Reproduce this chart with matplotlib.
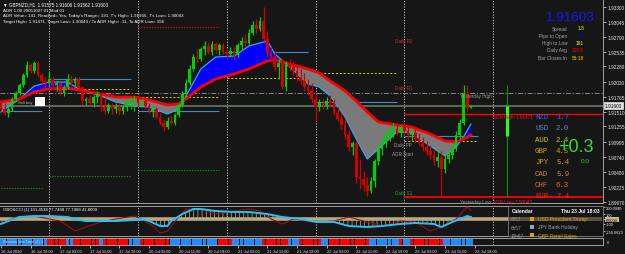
import matplotlib
matplotlib.use("Agg")
import matplotlib.pyplot as plt
import numpy as np
from matplotlib.patches import Rectangle

plt.rcParams['font.family'] = ['Liberation Sans', 'DejaVu Sans']

W, H = 625, 255
BG = "#161616"

# ---------------- data ----------------
symbol_line = "\u25BC GBPNZD,H1  1.91575 1.91606 1.91562 1.91603"
first_open = 1.91622
closes = [1.91553, 1.91485, 1.91553, 1.91724, 1.91827, 1.91963, 1.92134, 1.92305, 1.92202, 1.92339,
          1.92134, 1.92031, 1.91997, 1.92066, 1.91963, 1.91997, 1.91827, 1.91929, 1.92066, 1.91997,
          1.92066, 1.91929, 1.91690, 1.91724, 1.91656, 1.91758, 1.91809, 1.91587, 1.91519, 1.91622,
          1.91553, 1.91587, 1.91519, 1.91587, 1.91656, 1.91690, 1.91724, 1.91656, 1.91690, 1.91604,
          1.91519, 1.91553, 1.91417, 1.91314, 1.91246, 1.91348, 1.91314, 1.91451, 1.91622, 1.91809,
          1.91997, 1.92236, 1.92441, 1.92407, 1.92578, 1.92629, 1.92527, 1.92663, 1.92561, 1.92646,
          1.92527, 1.92493, 1.92544, 1.92476, 1.92646, 1.92715, 1.92680, 1.92851, 1.92988, 1.92920,
          1.93056, 1.92749, 1.92510, 1.92441, 1.92271, 1.92339, 1.91929, 1.92339, 1.92271, 1.92202,
          1.92100, 1.92031, 1.91929, 1.91861, 1.91724, 1.91587, 1.91656, 1.91622, 1.91690, 1.91656,
          1.91485, 1.91382, 1.91280, 1.91109, 1.90904, 1.90972, 1.90392, 1.90358, 1.90255, 1.90153,
          1.90323, 1.90665, 1.90870, 1.90972, 1.91109, 1.91178, 1.91212, 1.91143, 1.91246, 1.91178,
          1.91109, 1.91143, 1.91041, 1.90972, 1.90904, 1.90836, 1.90768, 1.90665, 1.90733, 1.90528,
          1.90699, 1.90768, 1.90870, 1.91109, 1.91314, 1.91809, 1.91575, 1.91603]
highs = [1.91690, 1.91656, 1.91587, 1.91758, 1.91861, 1.91997, 1.92168, 1.92373, 1.92339, 1.92373,
         1.92373, 1.92168, 1.92100, 1.92202, 1.92100, 1.92031, 1.92014, 1.91963, 1.92151, 1.92134,
         1.92100, 1.92100, 1.91929, 1.91758, 1.91792, 1.91792, 1.91861, 1.91844, 1.91758, 1.91656,
         1.91656, 1.91656, 1.91656, 1.91622, 1.91724, 1.91758, 1.91775, 1.91775, 1.91724, 1.91724,
         1.91656, 1.91622, 1.91587, 1.91485, 1.91382, 1.91417, 1.91451, 1.91485, 1.91656, 1.91861,
         1.92066, 1.92305, 1.92493, 1.92578, 1.92612, 1.92715, 1.92698, 1.92715, 1.92698, 1.92680,
         1.92680, 1.92578, 1.92612, 1.92612, 1.92680, 1.92783, 1.92834, 1.92920, 1.93056, 1.93090,
         1.93125, 1.93295, 1.92885, 1.92612, 1.92544, 1.92407, 1.92407, 1.92373, 1.92407, 1.92373,
         1.92305, 1.92236, 1.92168, 1.92066, 1.91997, 1.91792, 1.91724, 1.91724, 1.91758, 1.91792,
         1.91724, 1.91587, 1.91485, 1.91382, 1.91212, 1.91007, 1.91007, 1.90699, 1.90494, 1.90392,
         1.90392, 1.90699, 1.90938, 1.91041, 1.91178, 1.91246, 1.91314, 1.91314, 1.91280, 1.91314,
         1.91246, 1.91212, 1.91212, 1.91143, 1.91075, 1.91007, 1.90938, 1.90870, 1.90836, 1.90836,
         1.90768, 1.90836, 1.90938, 1.91178, 1.91382, 1.91963, 1.91966, 1.91606]
lows = [1.91519, 1.91451, 1.91417, 1.91519, 1.91690, 1.91792, 1.91929, 1.92100, 1.92168, 1.92168,
        1.92100, 1.91963, 1.91929, 1.91929, 1.91895, 1.91861, 1.91792, 1.91775, 1.91895, 1.91963,
        1.91929, 1.91895, 1.91622, 1.91622, 1.91622, 1.91587, 1.91656, 1.91519, 1.91468, 1.91485,
        1.91468, 1.91485, 1.91451, 1.91468, 1.91519, 1.91553, 1.91519, 1.91587, 1.91587, 1.91553,
        1.91485, 1.91417, 1.91382, 1.91280, 1.91178, 1.91212, 1.91280, 1.91280, 1.91417, 1.91587,
        1.91758, 1.91963, 1.92202, 1.92339, 1.92373, 1.92476, 1.92493, 1.92476, 1.92510, 1.92476,
        1.92493, 1.92407, 1.92441, 1.92407, 1.92441, 1.92578, 1.92612, 1.92646, 1.92817, 1.92851,
        1.92885, 1.92715, 1.92441, 1.92373, 1.92202, 1.92066, 1.91895, 1.91861, 1.92202, 1.92134,
        1.92031, 1.91963, 1.91861, 1.91792, 1.91656, 1.91348, 1.91519, 1.91553, 1.91553, 1.91587,
        1.91451, 1.91348, 1.91212, 1.91041, 1.90836, 1.90768, 1.90289, 1.90187, 1.90153, 1.90067,
        1.90119, 1.90221, 1.90597, 1.90768, 1.90904, 1.91007, 1.91075, 1.91109, 1.91075, 1.91109,
        1.91041, 1.91007, 1.90972, 1.90938, 1.90836, 1.90768, 1.90699, 1.90597, 1.90563, 1.90043,
        1.90460, 1.90631, 1.90699, 1.90836, 1.91041, 1.91280, 1.91519, 1.91562]

ma_bars = [0, 5, 9, 13, 18, 21, 27, 31, 36, 40, 45, 48, 50, 54, 58, 63, 67, 72, 74, 78,
           83, 86, 89, 93, 96, 99, 102, 107, 111, 116, 120, 123, 125, 127]
ma_slow = [1.91673, 1.91724, 1.91844, 1.91895, 1.91912, 1.91878, 1.91809, 1.91758, 1.91758, 1.91707,
           1.91622, 1.91639, 1.91724, 1.91929, 1.92066, 1.92151, 1.92236, 1.92373, 1.92390, 1.92322,
           1.92236, 1.92168, 1.92031, 1.91861, 1.91690, 1.91502, 1.91331, 1.91280, 1.91246, 1.91126,
           1.91007, 1.90990, 1.91041, 1.91109]
ma_fast = [1.91502, 1.91724, 1.91946, 1.92014, 1.92014, 1.91895, 1.91775, 1.91673, 1.91604, 1.91587,
           1.91468, 1.91553, 1.91775, 1.92236, 1.92441, 1.92458, 1.92629, 1.92715, 1.92493, 1.92271,
           1.91980, 1.91929, 1.91775, 1.91417, 1.91041, 1.90699, 1.90870, 1.91160, 1.91143, 1.90921,
           1.90751, 1.90904, 1.91075, 1.91297]

day_start_bars = [0, 13, 37, 61, 85, 109, 133]
line_start_bars = [0, 13, 37, 61, 85, 109]
line_end_bars = [11, 35, 59, 83, 107, 129]
day_open_level = [1.91519, 1.92066, 1.91519, 1.92527, 1.91673, 1.91092]
day_mid_level = [np.nan, 1.91895, 1.91758, 1.92083, 1.92168, 1.91007]
day_support_level = [1.90204, 1.90409, 1.90511, np.nan, np.nan, np.nan]
day_resist_level = [np.nan, np.nan, 1.92954, np.nan, np.nan, np.nan]

bid = 1.91603
yesterday_high = 1.91834
adr_high = 1.91471
adr_low = 1.90043
todays_high = 1.91966
range_thick_low = 1.91092

price_ticks = [1.93300, 1.93045, 1.92790, 1.92535, 1.92280, 1.92020, 1.91765, 1.91510,
               1.91255, 1.90995, 1.90740, 1.90480, 1.90225, 1.89970]

time_label_bars = [0, 8, 16, 24, 32, 40, 48, 56, 64, 72, 80, 88, 96, 104, 112, 120, 128]
time_labels = ["16 Jul 2020", "16 Jul 19:00", "17 Jul 03:00", "17 Jul 11:00", "17 Jul 19:00",
               "20 Jul 03:00", "20 Jul 11:00", "20 Jul 19:00", "21 Jul 03:00", "21 Jul 11:00",
               "21 Jul 19:00", "22 Jul 03:00", "22 Jul 11:00", "22 Jul 19:00", "23 Jul 03:00",
               "23 Jul 11:00", "23 Jul 19:00"]

cci_bars = [0, 2, 5, 9, 13, 18, 20, 23, 27, 31, 36, 38, 40, 43, 45, 46, 49, 52, 54, 58,
            63, 67, 72, 76, 81, 85, 90, 94, 99, 103, 108, 112, 117, 119, 122, 126, 127]
cci_main = [-104, -42, 42, 62, 62, 42, 0, -42, -42, -42, -21, 0, -42, -146, -146, -42, 104, 208, 208, 167,
            146, 146, 104, 42, 0, -60, -62, -146, -167, -146, -104, -83, -104, -167, -62, 62, 42]
cci_fast_bars = [0, 4, 9, 13, 16, 20, 23, 27, 31, 36, 38, 41, 43, 45, 48, 50, 54, 58, 63, 67,
                 70, 73, 76, 79, 83, 86, 90, 94, 99, 103, 108, 112, 116, 119, 123, 126, 127]
cci_fast = [-104, 42, 62, 0, -42, -250, -167, -62, 0, 62, 0, -146, -292, -250, 42, 208, 208, 104, 167, 208,
            167, 0, -104, 0, -42, -62, -42, 42, -62, -146, -42, -62, -250, -167, 0, 250, 180]
cci_ticks = [250.099, 100, 0, -100, -250.0623]
cci_tick_labels = ["250.0990", "100", "0.0000", "-100", "-250.0623"]

strip_colors = ['B', 'R', 'B', 'R', 'B', 'R', 'B', 'R', 'B', 'R', 'B', 'R', 'B', 'R', 'B', 'R', 'B', 'R', 'B', 'R', 'B']
strip_runs = [13, 5, 2, 7, 1, 7, 3, 8, 13, 4, 8, 7, 3, 6, 2, 11, 8, 1, 2, 9, 8]

info_labels = ["Spread", "Pips to Open", "High to Low", "Daily Avg", "Bar Closes In"]
info_values = ["1.8", "50", "191", "139.6", "56:18"]
info_colors = ["#ffff00", "#0000ff", "#ffff00", "#ff0000", "#ffd000"]

currencies = ["NZD", "USD", "AUD", "GBP", "JPY", "CAD", "CHF", "EUR"]
strengths = [1.7, 2.0, 2.4, 4.5, 5.4, 5.9, 6.3, 7.4]
cur_colors = ["#3a62d8", "#4a8ad8", "#c8c800", "#c8a800", "#d89a30", "#d88a30", "#e07020", "#ff2020"]

cal_times = ["0h57", "6h57", "10h57"]
cal_events = ["USD President Trump", "JPY Bank Holiday", "GBP Retail Sales"]
cal_colors = ["#e0a000", "#8aa8c0", "#e0a000"]

# ---------------- figure ----------------
fig = plt.figure(figsize=(6.25, 2.55), dpi=100, facecolor=BG)


def rect(x0, y0, x1, y1):
    return [x0 / W, 1 - y1 / H, (x1 - x0) / W, (y1 - y0) / H]


def ft(x, y, s, size=3.4, color="#ffffff", ha="left", va="center", **kw):
    return fig.text(x / W, 1 - y / H, s, fontsize=size, color=color, ha=ha, va=va, **kw)


ax = fig.add_axes(rect(0, 0, 603, 204))
axi = fig.add_axes(rect(0, 207, 603, 237))
axs = fig.add_axes(rect(0, 239, 603, 246))
XL = (-1 / 3.7, 602 / 3.7)
for a in (ax, axi, axs):
    a.set_facecolor(BG)
    a.set_xlim(*XL)
    for side in ("left", "top"):
        a.spines[side].set_visible(False)
    for side in ("right", "bottom"):
        a.spines[side].set_color("#a0a0a0")
        a.spines[side].set_linewidth(0.7)
    a.tick_params(axis="x", length=0, labelbottom=False)
for a in (axi, axs):
    a.spines["top"].set_visible(True)
    a.spines["top"].set_color("#a0a0a0")
    a.spines["top"].set_linewidth(0.7)

# main price axis
ax.set_ylim(1.89948, 1.93432)
ax.yaxis.tick_right()
ax.set_yticks(price_ticks)
ax.set_yticklabels([f"{p:.5f}" for p in price_ticks])
ax.tick_params(axis="y", labelsize=3.4, colors="#e8e8e8", length=2, width=0.5, pad=1)

# period separators
for b in day_start_bars[1:]:
    for a in (ax, axi, axs):
        a.axvline(b, color="#c8c8c8", lw=0.7, ls=(0, (1.2, 1.6)), zorder=1)

# daily levels
for i in range(len(line_start_bars)):
    s, e = line_start_bars[i], line_end_bars[i]
    ax.hlines(day_open_level[i], s, e, color="#3c8cc8", lw=0.8, zorder=1.5)
    if not np.isnan(day_mid_level[i]):
        ax.hlines(day_mid_level[i], s, e, color="#d8d800", lw=0.7, ls=(0, (2, 2)), zorder=1.5)
    if not np.isnan(day_support_level[i]):
        ax.hlines(day_support_level[i], s, e, color="#129012", lw=0.8, ls=(0, (1.2, 1.2)), zorder=1.5)
    if not np.isnan(day_resist_level[i]):
        ax.hlines(day_resist_level[i], s, e, color="#d01010", lw=0.8, ls=(0, (1.2, 1.2)), zorder=1.5)

ax.axhline(yesterday_high, color="#9a9a9a", lw=0.6, ls=(0, (6, 2, 1.5, 2)), zorder=1.6)
ax.axhline(bid, color="#5a6a5a", lw=1.4, zorder=1.6)
ax.hlines(adr_high, day_start_bars[5], XL[1], color="#ff0000", lw=1.0, zorder=1.7)
ax.hlines(adr_low, day_start_bars[5], XL[1], color="#ff0000", lw=1.3, zorder=1.7)

# MA cloud
mb = np.array(ma_bars, float)
sl = np.array(ma_slow)
fa = np.array(ma_fast)
ax.fill_between(mb, sl, fa, where=fa >= sl, interpolate=True, color="#0000ff", lw=0, zorder=2)
ax.fill_between(mb, sl, fa, where=fa < sl, interpolate=True, color="#7a7a7a", lw=0, zorder=2)
ax.plot(mb, fa, color="#3aa6e8", lw=0.9, zorder=2.2)
ax.plot(mb, sl, color="#ff0000", lw=2.0, zorder=2.3)

# candles
c = np.array(closes)
o = np.array([first_open] + closes[:-1])
hi = np.array(highs)
lo = np.array(lows)
x = np.arange(len(c))
cols = np.where(c >= o, "#00d000", "#d40000")
ax.vlines(x, lo, hi, colors=cols, lw=0.9, zorder=4)
ax.bar(x, np.maximum(np.abs(c - o), 0.00004), bottom=np.minimum(o, c), width=0.72,
       color=cols, lw=0, zorder=5)

# today's range marker on the right
ax.vlines(136.8, adr_low, todays_high, color="#00a000", lw=0.7, zorder=3)
ax.vlines(136.8, range_thick_low, bid, color="#22ff22", lw=2.2, zorder=3)

# ---------------- indicator panel ----------------
axi.set_ylim(-354, 271)
axi.yaxis.tick_right()
axi.set_yticks(cci_ticks)
axi.set_yticklabels(cci_tick_labels)
axi.tick_params(axis="y", labelsize=2.9, colors="#e8e8e8", length=1.5, width=0.5, pad=0.8)
axi.get_yticklabels()[2].set_bbox(dict(facecolor="#c8b890", edgecolor="none", pad=0.6))
axi.get_yticklabels()[2].set_color("#000000")
plt.rcParams['hatch.linewidth'] = 0.5
cb = np.array(cci_bars, float)
cm = np.array(cci_main, float)
axi.fill_between(cb, 0, cm, facecolor="none", edgecolor="#c8b890", hatch="||||", lw=0, zorder=2)
axi.axhline(0, color="#b8a880", lw=2.6, zorder=2.5)
axi.plot(cci_fast_bars, cci_fast, color="#9a1010", lw=0.8, zorder=3)
axi.plot(cb, cm, color="#28c0f8", lw=1.4, zorder=3.5)

# ---------------- session strip ----------------
axs.set_ylim(0, 1)
axs.set_yticks([0.5])
axs.set_yticklabels(["0"])
axs.tick_params(axis="y", labelsize=3, colors="#e8e8e8", length=0, pad=3)
axs.yaxis.tick_right()
bar_cols = []
for cc, n in zip(strip_colors, strip_runs):
    bar_cols += ["#1e8cff" if cc == "B" else "#ff0000"] * n
axs.bar(np.arange(len(bar_cols)), 1, width=0.88, bottom=0, color=bar_cols, lw=0, zorder=2)
axs.set_xticks(time_label_bars)
axs.set_xticklabels(time_labels, ha="left")
axs.tick_params(axis="x", length=2, width=0.5, colors="#e8e8e8", labelsize=2.9, pad=1,
                labelbottom=True)
ft(3, 242.5, "Session Info Time (1) 1", size=2.8, color="#e0e0e0")

# ---------------- texts ----------------
ft(3, 5, symbol_line, size=3.3)
ft(3, 10.5, "ADR 1.00 20051027 01 Mod 01", size=3.2)
ft(3, 16, "ADR Value= 141, Reached= Yes, Today's Range= 191, T's High= 1.91966, T's Low= 1.90043", size=3.2)
ft(3, 21.5, "Target High= 1.91471, Target Low= 1.90043 / To ADR High= -11, To ADR Low= 156", size=3.2)
ft(3, 210.5, "OBOSCCI (1) 101.4538 77.7468 77.7468 41.8009", size=3.1)

ft(395, 41, "Daily R2", size=3.3, color="#c83030")
ft(395, 89, "Daily R1", size=3.3, color="#c83030")
ft(394, 146, "Daily PP", size=3.3, color="#9a9a9a")
ft(392, 155, "ADR Start", size=3.3, color="#a0a0a0")
ft(395, 194, "Daily S1", size=3.3, color="#30a030")
ft(460, 97, "Yesterday High", size=3.3, color="#9a9a9a")
ft(460, 202.5, "Yesterday Low", size=3.3, color="#9a9a9a")
ft(493, 118, "ADR High: 1.91471", size=3.3, color="#e02020")
ft(493, 202.5, "ADR Low: 1.90043", size=3.3, color="#e02020")

ft(18, 103, "Sell buy", size=3.0, color="#b0b0b0")
fig.patches.append(Rectangle((35 / W, 1 - 107 / H), 10 / W, 9 / H, transform=fig.transFigure,
                             facecolor="#ffffff", edgecolor="none", zorder=6))

# right info block
ft(594, 18, "1.91603", size=9.7, color="#1818ff", ha="right")
for k, (lab, val, colr) in enumerate(zip(info_labels, info_values, info_colors)):
    yy = 29 + k * 7.3
    ft(567, yy, lab, size=3.4, color="#a8a8a8", ha="right")
    ft(584, yy, val, size=3.4, color=colr, ha="right")

# currency strength
for k, (cur, st, colr) in enumerate(zip(currencies, strengths, cur_colors)):
    yy = 117.7 + k * 11.3
    fig.text(535 / W, 1 - yy / H, cur, fontsize=5.3, color=colr, ha="left", va="center",
             family=["Liberation Mono", "DejaVu Sans Mono"])
    fig.text(556 / W, 1 - yy / H, f"{st:.1f}", fontsize=5.3, color=colr, ha="left", va="center",
             family=["Liberation Mono", "DejaVu Sans Mono"])
ft(576, 148, "+0.3", size=13, color="#30e030", ha="center")
ft(585, 162, "0.0", size=4.6, color="#30d030", ha="center")

# current price box
ft(605, 106.7, "1.91603", size=3.4, color="#000000",
   bbox=dict(facecolor="#e0e0e0", edgecolor="#ffffff", pad=0.5, lw=0.4))

# calendar box
fig.patches.append(Rectangle((508 / W, 1 - 237 / H), 95 / W, 30 / H, transform=fig.transFigure,
                             facecolor="#141414", edgecolor="#7a7a7a", lw=0.6, zorder=5))
fig.patches.append(Rectangle((509 / W, 1 - 222 / H), 93 / W, 4.5 / H, transform=fig.transFigure,
                             facecolor="#5a5040", edgecolor="none", zorder=5.5))
ft(512, 211.5, "Calendar", size=3.6, color="#ffffff", weight="bold", zorder=7)
ft(600, 211.5, "Thu 23 Jul 18:03", size=3.6, color="#ffffff", ha="right", weight="bold", zorder=7)
for k, (tm, ev, colr) in enumerate(zip(cal_times, cal_events, cal_colors)):
    yy = 219.8 + k * 8.2
    ft(511, yy, tm, size=3.4, color="#9a9a9a", zorder=7)
    fig.patches.append(Rectangle((530 / W, 1 - (yy + 1.8) / H), 4 / W, 3.6 / H, transform=fig.transFigure,
                                 facecolor=colr, edgecolor="none", zorder=7))
    ft(538, yy, ev, size=3.6, color=colr, zorder=7)

fig.savefig("out.png", dpi=100, facecolor=BG)
